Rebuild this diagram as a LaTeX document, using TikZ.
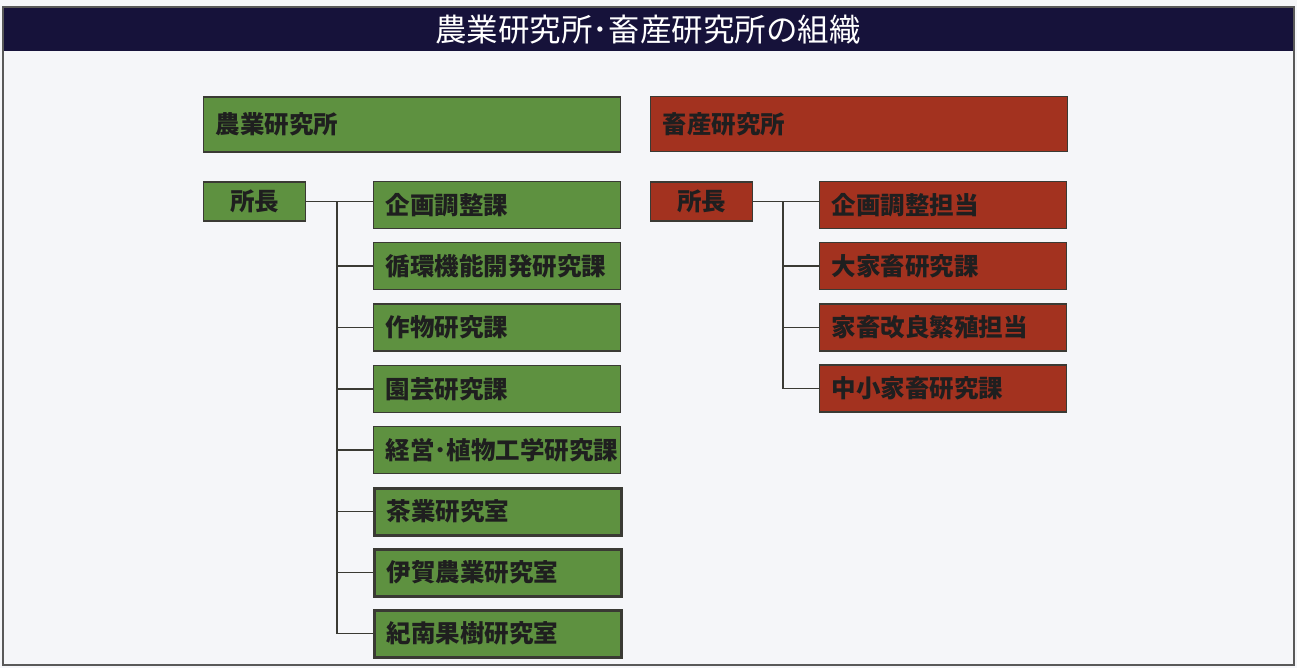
\documentclass[tikz,border=0pt]{standalone}
\usepackage{fontspec}
\newfontfamily\cjk{Noto Sans CJK JP}
\definecolor{navy}{HTML}{16123A}
\definecolor{leaf}{HTML}{5E9140}
\definecolor{brick}{HTML}{A3321F}
\definecolor{edge}{HTML}{3A3A34}
\definecolor{paper}{HTML}{F5F6F9}

\begin{document}
\begin{tikzpicture}[x=1pt,y=-1pt,
  box/.style={rectangle,draw=edge,line width=1.4pt,inner xsep=12pt,inner ysep=0pt,
    minimum height=47pt,text width=223pt,align=left,anchor=west,text=black!88,
    font=\cjk\bfseries\fontsize{24.5pt}{24.5pt}\selectfont},
  head/.style={box,minimum height=55pt,text width=393pt},
  chief/.style={box,minimum height=39pt,text width=78pt,align=center},
  heavy/.style={line width=3pt},
  link/.style={draw=edge,line width=1.9pt}]

\fill [paper] (0,0) rectangle (1297,668);
\fill [navy] (3,7) rectangle (1294,51);
\draw [draw=black!65,line width=2.5pt] (3,7) rectangle (1294,665);

\node [text=white,font=\cjk\fontsize{31.5pt}{31.5pt}\selectfont] (t) at (648,30) {農業研究所･畜産研究所の組織};

% left
\node [head,fill=leaf] (a) at (203,124.5) {農業研究所};
\node [chief,fill=leaf] (a0) at (203,201.5) {所長};

\node [box,fill=leaf] (a1) at (373,205) {企画調整課};
\node [box,fill=leaf] (a2) at (373,266) {循環機能開発研究課};
\node [box,fill=leaf] (a3) at (373,327.5) {作物研究課};
\node [box,fill=leaf] (a4) at (373,389) {園芸研究課};
\node [box,fill=leaf] (a5) at (373,450) {経営･植物工学研究課};
\node [box,heavy,fill=leaf] (a6) at (373,511.5) {茶業研究室};
\node [box,heavy,fill=leaf] (a7) at (373,572.5) {伊賀農業研究室};
\node [box,heavy,fill=leaf] (a8) at (373,633.5) {紀南果樹研究室};

% right
\node [head,fill=brick] (b) at (650,124) {畜産研究所};
\node [chief,fill=brick] (b0) at (650,201.5) {所長};

\node [box,fill=brick] (b1) at (819,205) {企画調整担当};
\node [box,fill=brick] (b2) at (819,266) {大家畜研究課};
\node [box,fill=brick] (b3) at (819,327.5) {家畜改良繁殖担当};
\node [box,fill=brick] (b4) at (819,388.5) {中小家畜研究課};

\coordinate (la) at (337,0);
\coordinate (lb) at (783,0);

\draw [link] (a0.east) to (a0.east -| a1.west);
\draw [link] (a0.east -| la) to (a8.west -| la);
\foreach \i in {2,...,8} {
\draw [link] (a\i.west -| la) to (a\i.west);
}

\draw [link] (b0.east) to (b0.east -| b1.west);
\draw [link] (b0.east -| lb) to (b4.west -| lb);
\foreach \i in {2,3,4} {
\draw [link] (b\i.west -| lb) to (b\i.west);
}

\end{tikzpicture}
\end{document}
